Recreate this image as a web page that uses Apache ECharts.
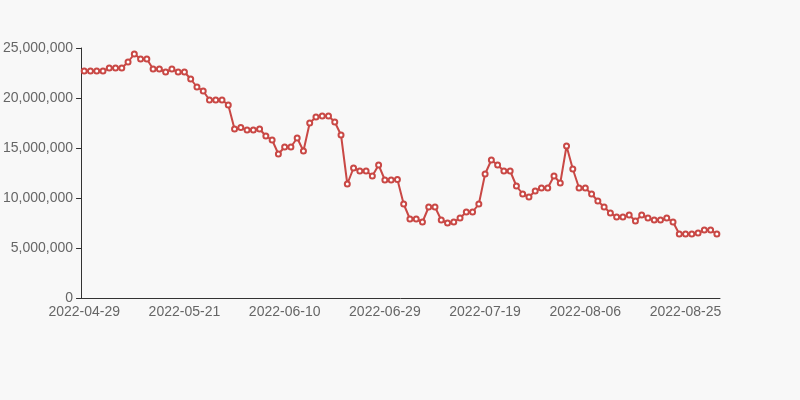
<!DOCTYPE html>
<html>
<head>
<meta charset="utf-8">
<script src="https://cdn.jsdelivr.net/npm/echarts@6/dist/echarts.min.js"></script>
<style>
html,body{margin:0;padding:0;background:#f8f8f8;}
#c{width:800px;height:400px;}
</style>
</head>
<body>
<div id="c"></div>
<script>
const dates = [
'2022-04-29','2022-04-30','2022-05-03','2022-05-04','2022-05-05','2022-05-06','2022-05-07','2022-05-09','2022-05-10','2022-05-11',
'2022-05-12','2022-05-13','2022-05-14','2022-05-16','2022-05-17','2022-05-19','2022-05-21',
'2022-05-23','2022-05-24','2022-05-25','2022-05-26','2022-05-27','2022-05-28','2022-05-30','2022-05-31','2022-06-01',
'2022-06-02','2022-06-04','2022-06-06','2022-06-07','2022-06-08','2022-06-09','2022-06-10',
'2022-06-11','2022-06-13','2022-06-14','2022-06-15','2022-06-16','2022-06-17','2022-06-18','2022-06-20','2022-06-21',
'2022-06-22','2022-06-23','2022-06-24','2022-06-25','2022-06-27','2022-06-28','2022-06-29',
'2022-06-30','2022-07-01','2022-07-02','2022-07-04','2022-07-05','2022-07-06','2022-07-07','2022-07-08','2022-07-09',
'2022-07-11','2022-07-12','2022-07-13','2022-07-14','2022-07-15','2022-07-18','2022-07-19',
'2022-07-20','2022-07-21','2022-07-22','2022-07-23','2022-07-25','2022-07-26','2022-07-27','2022-07-28','2022-07-29',
'2022-07-30','2022-08-01','2022-08-02','2022-08-03','2022-08-04','2022-08-05','2022-08-06',
'2022-08-08','2022-08-09','2022-08-10','2022-08-11','2022-08-12','2022-08-13','2022-08-15','2022-08-16','2022-08-17',
'2022-08-18','2022-08-19','2022-08-20','2022-08-22','2022-08-23','2022-08-24','2022-08-25',
'2022-08-26','2022-08-27','2022-08-29','2022-08-30','2022-08-31'
];
const values = [
22700000,22700000,22700000,22700000,23000000,23000000,23000000,23600000,24400000,23900000,
23900000,22900000,22900000,22600000,22900000,22600000,22600000,21900000,21100000,20700000,
19800000,19800000,19800000,19300000,16900000,17050000,16800000,16800000,16900000,16200000,
15800000,14400000,15100000,15100000,16000000,14700000,17500000,18100000,18200000,18200000,
17600000,16300000,11400000,13000000,12700000,12700000,12200000,13300000,11800000,11800000,
11850000,9400000,7900000,7900000,7600000,9100000,9100000,7800000,7500000,7600000,
8000000,8600000,8600000,9400000,12400000,13800000,13300000,12700000,12700000,11200000,
10400000,10100000,10700000,11000000,11000000,12200000,11500000,15200000,12900000,11000000,
11000000,10400000,9700000,9100000,8500000,8100000,8100000,8300000,7700000,8300000,
8000000,7800000,7800000,8000000,7600000,6400000,6400000,6400000,6500000,6800000,
6800000,6400000
];
const yTicks = [0, 5000000, 10000000, 15000000, 20000000, 25000000];

const textStyle = {color: '#666', fontSize: 14, fontFamily: '"Liberation Sans", Arial, sans-serif'};
const chart = echarts.init(document.getElementById('c'));
chart.setOption({
  backgroundColor: '#f8f8f8',
  animation: false,
  grid: {left: 80, right: 80, top: 48, bottom: 102},
  xAxis: {
    type: 'category',
    data: dates,
    boundaryGap: true,
    axisLine: {lineStyle: {color: '#333'}},
    axisTick: {interval: 15, length: 5, lineStyle: {color: '#333'}},
    axisLabel: Object.assign({interval: 15, margin: 7}, textStyle)
  },
  yAxis: {
    type: 'value',
    min: yTicks[0],
    max: yTicks[yTicks.length - 1],
    interval: yTicks[1] - yTicks[0],
    axisLine: {show: true, lineStyle: {color: '#333'}},
    axisTick: {show: true, length: 5, lineStyle: {color: '#333'}},
    splitLine: {show: false},
    axisLabel: Object.assign({margin: 8, formatter: v => v.toLocaleString('en-US')}, textStyle)
  },
  series: [{
    type: 'line',
    data: values,
    symbol: 'emptyCircle',
    symbolSize: 5,
    showAllSymbol: true,
    lineStyle: {color: '#c94845', width: 2},
    itemStyle: {color: '#c94845', borderWidth: 1},
    emphasis: {disabled: true}
  }]
});
</script>
</body>
</html>
